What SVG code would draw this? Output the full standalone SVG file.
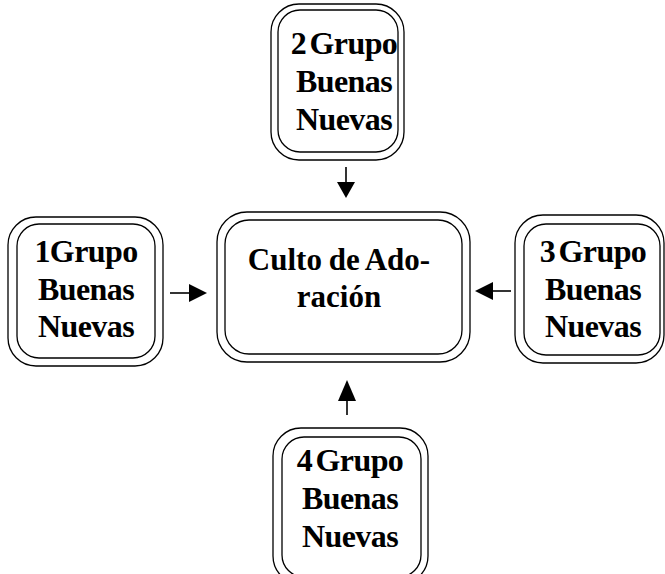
<svg xmlns="http://www.w3.org/2000/svg" width="665" height="574" viewBox="0 0 665 574">
<style>
.o{fill:#fff;stroke:#000;stroke-width:1.3}
.i{fill:none;stroke:#000;stroke-width:1.3}
.t{font-family:"Liberation Serif","Times New Roman",serif;font-weight:bold;font-size:32px;text-anchor:middle;fill:#000;word-spacing:-4px;letter-spacing:-0.6px}
.c{font-size:31px;word-spacing:-1px;letter-spacing:0}
.l{stroke:#000;stroke-width:1.6;fill:none}
.h{fill:#000}
</style>
<rect width="665" height="574" fill="#fff"/>
<g id="connectors">
<line class="l" x1="346" y1="167" x2="346" y2="184"/>
<polygon class="h" points="337,182 355,182 346,198"/>
<line class="l" x1="170" y1="293" x2="190" y2="293"/>
<polygon class="h" points="189,284 189,302 207,293"/>
<line class="l" x1="511" y1="291" x2="492" y2="291"/>
<polygon class="h" points="493,282 493,300 475,291"/>
<line class="l" x1="347" y1="415" x2="347" y2="400"/>
<polygon class="h" points="338,401 356,401 347,380"/>
</g>
<g id="node-center">
<rect class="o" x="217" y="212" width="253" height="150" rx="30"/>
<rect class="i" x="225" y="220" width="237" height="134" rx="24"/>
<text class="t c" x="339" y="270">Culto de Ado-</text>
<text class="t c" x="339" y="307">ración</text>
</g>
<g id="node-1">
<rect class="o" x="8" y="217" width="155" height="149" rx="28"/>
<rect class="i" x="17" y="224" width="138" height="134" rx="22"/>
<text class="t" x="86" y="262">1Grupo</text>
<text class="t" x="86" y="300">Buenas</text>
<text class="t" x="86" y="337">Nuevas</text>
</g>
<g id="node-2">
<rect class="o" x="271" y="4" width="133" height="156" rx="28"/>
<rect class="i" x="278" y="10" width="120" height="142" rx="22"/>
<text class="t" x="344" y="54">2 Grupo</text>
<text class="t" x="344" y="92">Buenas</text>
<text class="t" x="344" y="130">Nuevas</text>
</g>
<g id="node-3">
<rect class="o" x="515" y="215" width="149" height="148" rx="28"/>
<rect class="i" x="524" y="224" width="136" height="131" rx="22"/>
<text class="t" x="593" y="262">3 Grupo</text>
<text class="t" x="593" y="300">Buenas</text>
<text class="t" x="593" y="337">Nuevas</text>
</g>
<g id="node-4">
<rect class="o" x="273" y="428" width="155" height="156" rx="28"/>
<rect class="i" x="282" y="437" width="139" height="140" rx="22"/>
<text class="t" x="350" y="471">4 Grupo</text>
<text class="t" x="350" y="509">Buenas</text>
<text class="t" x="350" y="547">Nuevas</text>
</g>
</svg>
